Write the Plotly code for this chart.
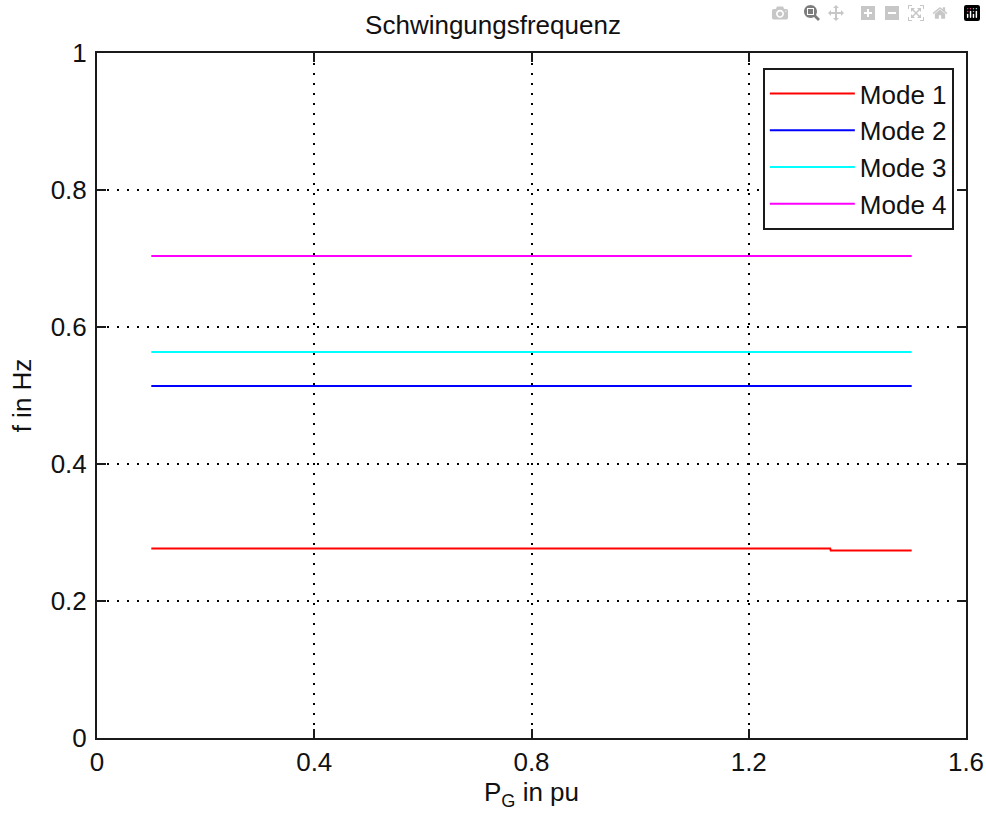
import plotly.graph_objects as go

# Data
p_g = [0.1, 0.2, 0.3, 0.4, 0.5, 0.6, 0.7, 0.8, 0.9, 1.0, 1.1, 1.2, 1.3, 1.35, 1.351, 1.4, 1.5]
mode1 = [0.2767, 0.2767, 0.2767, 0.2767, 0.2767, 0.2767, 0.2767, 0.2767, 0.2767, 0.2767,
         0.2767, 0.2767, 0.2767, 0.2767, 0.2737, 0.2737, 0.2737]
mode2 = [0.514] * len(p_g)
mode3 = [0.5635] * len(p_g)
mode4 = [0.7035] * len(p_g)

series_names = ["Mode 1", "Mode 2", "Mode 3", "Mode 4"]
series_values = [mode1, mode2, mode3, mode4]
series_colors = ["#ff0000", "#0000ff", "#00ffff", "#ff00ff"]

x_ticks = [0, 0.4, 0.8, 1.2, 1.6]
x_tick_labels = ["0", "0.4", "0.8", "1.2", "1.6"]
y_ticks = [0, 0.2, 0.4, 0.6, 0.8, 1.0]
y_tick_labels = ["0", "0.2", "0.4", "0.6", "0.8", "1"]

FONT = "Liberation Sans, Arial, sans-serif"
FS = 26

fig = go.Figure()
for name, vals, col in zip(series_names, series_values, series_colors):
    fig.add_trace(go.Scatter(x=p_g, y=vals, mode="lines", name=name,
                             line=dict(color=col, width=2)))

axis_common = dict(
    showline=True, linecolor="#1a1a1a", linewidth=2, mirror="ticks",
    ticks="inside", ticklen=9, tickwidth=2, tickcolor="#1a1a1a",
    showgrid=True, gridcolor="#000000", gridwidth=2, griddash="2px,8px",
    zeroline=False,
    ticklabeloverflow="allow",
)

fig.update_xaxes(range=[0, 1.6], tickvals=x_ticks, ticktext=x_tick_labels,
                 tickfont=dict(family=FONT, size=FS, color="#111111"),
                 title=dict(text="P<sub>G</sub> in pu", font=dict(family=FONT, size=FS, color="#111111"),
                            standoff=7),
                 ticklabelstandoff=0, automargin="bottom", **axis_common)
fig.update_yaxes(range=[0, 1.0], tickvals=y_ticks, ticktext=y_tick_labels,
                 tickfont=dict(family=FONT, size=FS, color="#111111"),
                 title=dict(text="f in Hz", font=dict(family=FONT, size=FS, color="#111111"),
                            standoff=12),
                 ticklabelstandoff=3, automargin=False, **axis_common)

fig.update_layout(
    width=986, height=814,
    margin=dict(l=97, r=20, t=53, b=76),
    paper_bgcolor="white", plot_bgcolor="white",
    title=dict(text="Schwingungsfrequenz", x=0.5, xanchor="center",
               y=1 - 25 / 814, yanchor="middle",
               font=dict(family=FONT, size=FS, color="#111111")),
    legend=dict(x=0.986, xanchor="right", y=0.978, yanchor="top",
                bgcolor="white", bordercolor="#1a1a1a", borderwidth=2,
                font=dict(family=FONT, size=FS, color="#111111"),
                itemwidth=85),
    showlegend=True,
)

fig.write_html("out.html",
               post_script="document.body.style.margin='0';document.body.style.overflow='hidden';")
